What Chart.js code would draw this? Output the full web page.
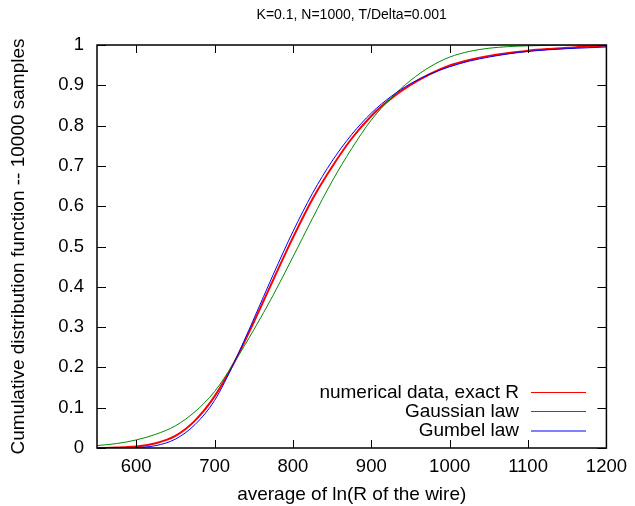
<!DOCTYPE html>
<html>
<head>
<meta charset="utf-8">
<script src="https://cdn.jsdelivr.net/npm/chart.js@4.4.1/dist/chart.umd.min.js"></script>
<style>
  html, body { margin: 0; padding: 0; background: #fff; }
  #wrap { width: 635px; height: 506px; }
</style>
</head>
<body>
<div id="wrap"><canvas id="myChart" width="635" height="506"></canvas></div>
<script>
// values
var xs = [550, 575, 600, 625, 650, 675, 700, 725, 750, 775, 800, 825, 850, 875, 900,
          925, 950, 975, 1000, 1025, 1050, 1075, 1100, 1125, 1150, 1175, 1200];
var numerical = [0, 0.001, 0.004, 0.012, 0.030, 0.068, 0.128, 0.212, 0.312, 0.418, 0.522, 0.618, 0.698, 0.768, 0.824,
                 0.867, 0.901, 0.928, 0.949, 0.963, 0.973, 0.980, 0.986, 0.990, 0.993, 0.996, 0.998];
var gaussian = [0.006, 0.011, 0.020, 0.034, 0.055, 0.090, 0.140, 0.212, 0.293, 0.380, 0.474, 0.570, 0.662, 0.743, 0.814,
                0.868, 0.912, 0.946, 0.970, 0.984, 0.992, 0.996, 0.998, 0.999, 1.0, 1.0, 1.0];
var gumbel = [0, 0.0001, 0.001, 0.006, 0.022, 0.058, 0.118, 0.212, 0.320, 0.431, 0.537, 0.632, 0.712, 0.778, 0.831,
              0.872, 0.904, 0.928, 0.946, 0.960, 0.970, 0.978, 0.984, 0.988, 0.991, 0.993, 0.995];
var labels = ['numerical data, exact R', 'Gaussian law', 'Gumbel law'];
var colors = ['#ff0000', '#008a00', '#0000ff'];
var xTicks = [600, 700, 800, 900, 1000, 1100, 1200];
var yTicks = [0, 0.1, 0.2, 0.3, 0.4, 0.5, 0.6, 0.7, 0.8, 0.9, 1];

function pts(ys) {
    return xs.map(function(x, i) { return { x: x, y: ys[i] }; });
}

var FONT = '"Liberation Sans", Arial, sans-serif';

// gnuplot style frame: box, inward ticks on all sides, legend, title
var frame = {
    id: 'frame',
    afterDatasetsDraw: function(chart) {
        var c = chart.ctx, a = chart.chartArea;
        var sx = chart.scales.x, sy = chart.scales.y;
        c.save();
        c.strokeStyle = '#000';
        c.lineWidth = 1.5;
        c.strokeRect(a.left, a.top, a.right - a.left, a.bottom - a.top);
        c.lineWidth = 1;
        c.beginPath();
        xTicks.forEach(function(v) {
            var p = Math.round(sx.getPixelForValue(v)) + 0.5;
            c.moveTo(p, a.bottom); c.lineTo(p, a.bottom - 8);
            c.moveTo(p, a.top); c.lineTo(p, a.top + 8);
        });
        yTicks.forEach(function(v) {
            var p = Math.round(sy.getPixelForValue(v)) + 0.5;
            c.moveTo(a.left, p); c.lineTo(a.left + 9, p);
            c.moveTo(a.right, p); c.lineTo(a.right - 9, p);
        });
        c.stroke();

        // legend, text right aligned with the sample line after it
        c.font = '19px ' + FONT;
        c.textAlign = 'right';
        c.textBaseline = 'middle';
        c.fillStyle = '#000';
        var rowY = [392.5, 411.5, 431];
        labels.forEach(function(txt, i) {
            c.fillText(txt, 519, rowY[i]);
            c.strokeStyle = colors[i];
            c.lineWidth = 1;
            c.beginPath();
            c.moveTo(531, rowY[i]);
            c.lineTo(586, rowY[i]);
            c.stroke();
        });

        // title
        c.font = '14px ' + FONT;
        c.textAlign = 'center';
        c.fillText('K=0.1, N=1000, T/Delta=0.001', (a.left + a.right) / 2, 15);
        c.restore();
    }
};

const ctx = document.getElementById('myChart').getContext('2d');
const myChart = new Chart(ctx, {
    type: 'line',
    data: {
        datasets: [
            { label: labels[0], data: pts(numerical), borderColor: colors[0], borderWidth: 2, order: 2 },
            { label: labels[1], data: pts(gaussian), borderColor: colors[1], borderWidth: 1, order: 1 },
            { label: labels[2], data: pts(gumbel), borderColor: colors[2], borderWidth: 1, order: 0 }
        ]
    },
    options: {
        responsive: false,
        animation: false,
        layout: { padding: { top: 45, right: 26.5, left: 0, bottom: 0 } },
        elements: {
            point: { radius: 0 },
            line: { cubicInterpolationMode: 'monotone', fill: false }
        },
        plugins: {
            legend: { display: false },
            tooltip: { enabled: false },
            title: { display: false }
        },
        scales: {
            x: {
                type: 'linear',
                min: 550,
                max: 1200,
                afterBuildTicks: function(s) { s.ticks = xTicks.map(function(v) { return { value: v }; }); },
                afterFit: function(s) { s.height = 58; },
                grid: { display: false, drawTicks: false },
                border: { display: false },
                ticks: { color: '#000', font: { family: FONT, size: 18.5 }, padding: 8, maxRotation: 0,
                         callback: function(v) { return String(v); } },
                title: { display: true, text: 'average of ln(R of the wire)', color: '#000',
                         font: { family: FONT, size: 19 }, padding: { top: 0, bottom: 0 } }
            },
            y: {
                min: 0,
                max: 1,
                afterBuildTicks: function(s) { s.ticks = yTicks.map(function(v) { return { value: v }; }); },
                afterFit: function(s) { s.width = 97; },
                grid: { display: false, drawTicks: false },
                border: { display: false },
                ticks: { color: '#000', font: { family: FONT, size: 18.5 }, padding: 13,
                         callback: function(v) { return String(v); } },
                title: { display: true, text: 'Cumulative distribution function -- 10000 samples', color: '#000',
                         font: { family: FONT, size: 19 }, padding: { top: 7, bottom: 0 } }
            }
        }
    },
    plugins: [frame]
});
</script>
</body>
</html>
